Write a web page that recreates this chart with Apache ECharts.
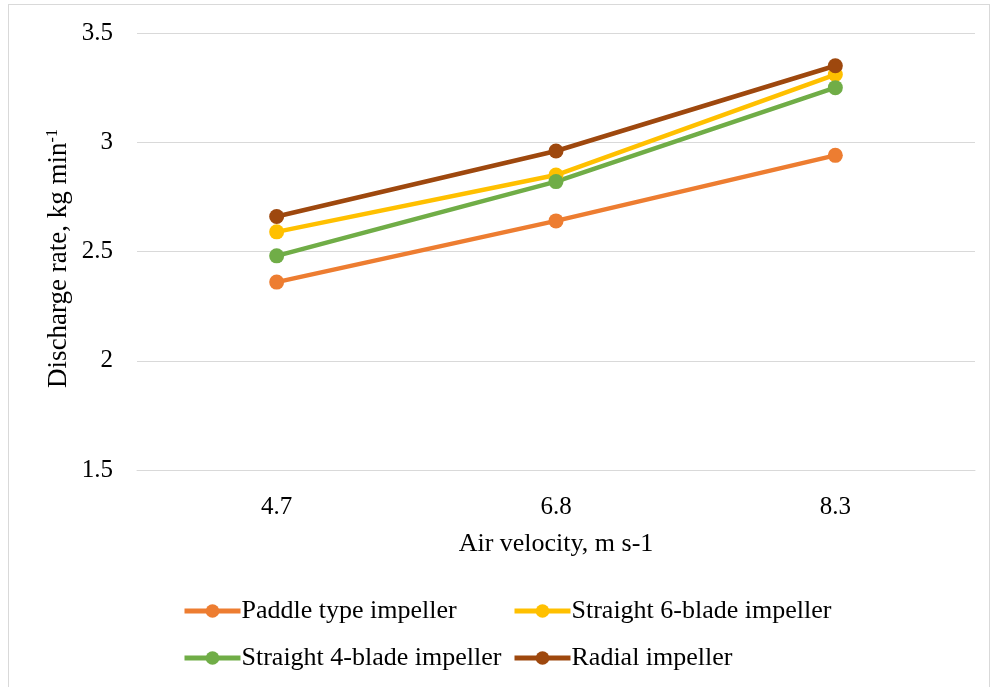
<!DOCTYPE html>
<html>
<head>
<meta charset="utf-8">
<script src="https://cdn.jsdelivr.net/npm/echarts@6/dist/echarts.min.js"></script>
<style>
    html, body { margin: 0; padding: 0; background: #fff; }
    #chart { position: absolute; left: 0; top: 0; width: 995px; height: 687px; }
    #frame { position: absolute; left: 8px; top: 4px; width: 982px; height: 690px; border: 1px solid #d9d9d9; box-sizing: border-box; }
</style>
</head>
<body>
<div id="frame"></div>
<div id="chart"></div>
<script>
// 数据
var velocities = ['4.7', '6.8', '8.3'];
var paddleType = [2.36, 2.64, 2.94];
var straight6 = [2.59, 2.85, 3.31];
var straight4 = [2.48, 2.82, 3.25];
var radial = [2.66, 2.96, 3.35];
var seriesNames = ['Paddle type impeller', 'Straight 6-blade impeller', 'Straight 4-blade impeller', 'Radial impeller'];
var seriesColors = ['#ED7D31', '#FFC000', '#70AD47', '#9E480E'];

var font = '"Liberation Serif", "Times New Roman", serif';

function makeSeries(idx, data) {
    return {
        name: seriesNames[idx],
        type: 'line',
        data: data,
        symbol: 'circle',
        symbolSize: 15,
        color: seriesColors[idx],
        lineStyle: {width: 4.5, color: seriesColors[idx]},
        itemStyle: {color: seriesColors[idx]},
        emphasis: {disabled: true}
    };
}

function makeLegend(idx, left, top) {
    return {
        data: [seriesNames[idx]],
        left: left,
        top: top,
        itemWidth: 56,
        itemHeight: 17,
        itemGap: 0,
        padding: 0,
        lineStyle: {width: 5},
        textStyle: {fontFamily: font, fontSize: 26, color: '#000', padding: [0, 0, 0, -4]}
    };
}

var myChart = echarts.init(document.getElementById('chart'));
var option = {
    animation: false,
    backgroundColor: 'transparent',
    grid: {left: 137, right: 20, top: 33, bottom: 217},
    legend: [
        makeLegend(0, 182, 598),
        makeLegend(1, 512, 598),
        makeLegend(2, 182, 645),
        makeLegend(3, 512, 645)
    ],
    xAxis: {
        type: 'category',
        data: velocities,
        boundaryGap: true,
        axisLine: {show: true, lineStyle: {color: '#d9d9d9', width: 1}},
        axisTick: {show: false},
        axisLabel: {fontFamily: font, fontSize: 25, color: '#000', margin: 25},
        name: 'Air velocity, m s-1',
        nameLocation: 'middle',
        nameGap: 61,
        nameTextStyle: {fontFamily: font, fontSize: 26, color: '#000'}
    },
    yAxis: {
        type: 'value',
        min: 1.5,
        max: 3.5,
        interval: 0.5,
        axisLine: {show: false},
        axisTick: {show: false},
        splitLine: {lineStyle: {color: '#d9d9d9', width: 1}},
        axisLabel: {fontFamily: font, fontSize: 25, color: '#000', margin: 24},
        name: '{t|Discharge rate, kg min}{s|-1}',
        nameLocation: 'middle',
        nameMoveOverlap: false,
        nameGap: 64,
        nameTextStyle: {
            padding: [0, 14, 0, 0],
            rich: {
                t: {fontFamily: font, fontSize: 27, color: '#000'},
                s: {fontFamily: font, fontSize: 16, color: '#000', padding: [0, 0, 12, 0]}
            }
        }
    },
    series: [
        makeSeries(0, paddleType),
        makeSeries(1, straight6),
        makeSeries(2, straight4),
        makeSeries(3, radial)
    ]
};
myChart.setOption(option);
</script>
</body>
</html>
